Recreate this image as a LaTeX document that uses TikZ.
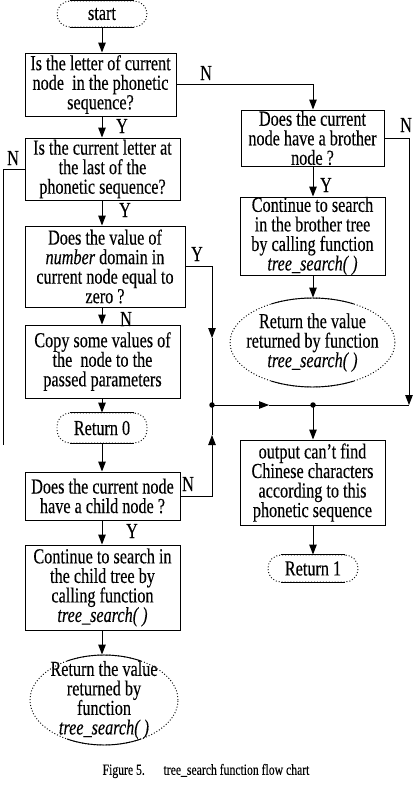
\documentclass[tikz,border=0pt]{standalone}
\usepackage{fontspec}
\setmainfont{Liberation Serif}[UprightFeatures={FakeBold=0.25},ItalicFeatures={FakeBold=0.25}]
\usetikzlibrary{arrows.meta,shapes.geometric}
\newcommand\flowfont{\fontsize{16.2}{14.8}\selectfont\lineskiplimit=-50pt\relax}
\newcommand\flowtext[3]{%
  \begin{scope}[shift={#1},yscale=1.32,transform shape]
    \node[txt] (#2) at (0,0) {#3};
  \end{scope}}
\begin{document}
\begin{tikzpicture}[x=1pt,y=-1pt,
  line width=0.95pt,
  box/.style={draw, rectangle, inner sep=0pt},
  term/.style={draw, dotted, rounded corners=13pt, rectangle, inner sep=0pt},
  oval/.style={draw, dotted, ellipse, inner sep=0pt},
  txt/.style={align=center, inner sep=0pt, font=\flowfont},
  arr/.style={-{Triangle[length=10pt,width=7.5pt]}},
  dot/.style={circle, fill, inner sep=0pt, minimum size=5.5pt}]
\useasboundingbox (0,0) rectangle (413,793);

% ---------- frames ----------
\node[term, minimum width=90pt, minimum height=26pt] (start) at (102,14) {};
\node[box, minimum width=151pt, minimum height=63pt] (b1) at (100.5,84.5) {};
\node[box, minimum width=155pt, minimum height=62pt] (b2) at (102.5,169) {};
\node[box, minimum width=160pt, minimum height=81pt] (b3) at (105,266.5) {};
\node[box, minimum width=155pt, minimum height=73pt] (b4) at (102.5,361.5) {};
\node[term, minimum width=90pt, minimum height=30pt] (r0) at (102,428) {};
\node[box, minimum width=155pt, minimum height=48pt] (b5) at (102.5,496) {};
\node[box, minimum width=155pt, minimum height=85pt] (b6) at (102.5,587.5) {};
\node[oval, minimum width=148pt, minimum height=90pt] (e1) at (104,700) {};

\node[box, minimum width=143pt, minimum height=56pt] (bro) at (312.5,138) {};
\node[box, minimum width=145pt, minimum height=78pt] (cont) at (312.5,236) {};
\node[oval, minimum width=165pt, minimum height=89pt] (e2) at (312.5,342.5) {};
\node[box, minimum width=145pt, minimum height=85pt] (out) at (312.5,482.5) {};
\node[term, minimum width=90pt, minimum height=27pt] (r1) at (313,568.5) {};

% solid straight parts of the terminals and ovals
\foreach \t in {start,r0,r1}{
  \draw ([xshift=13pt]\t.north west) -- ([xshift=-13pt]\t.north east);
  \draw ([xshift=13pt]\t.south west) -- ([xshift=-13pt]\t.south east);
}
\draw ([shift={(60:74pt and 45pt)}]e1.center) arc[start angle=60,end angle=120,x radius=74pt,y radius=45pt];
\draw ([shift={(240:74pt and 45pt)}]e1.center) arc[start angle=240,end angle=300,x radius=74pt,y radius=45pt];
\draw ([shift={(60:82.5pt and 44.5pt)}]e2.center) arc[start angle=60,end angle=120,x radius=82.5pt,y radius=44.5pt];
\draw ([shift={(240:82.5pt and 44.5pt)}]e2.center) arc[start angle=240,end angle=300,x radius=82.5pt,y radius=44.5pt];

% ---------- texts ----------
\flowtext{(102,14)}{startt}{start}
\flowtext{(100.5,84.5)}{b1t}{Is the letter of current\\node\ \ in the phonetic\\sequence?}
\flowtext{(102.5,169)}{b2t}{Is the current letter at\\the last of the\\phonetic sequence?}
\flowtext{(105,266.5)}{b3t}{Does the value of\\\textit{number} domain in\\current node equal to\\zero ?}
\flowtext{(102.5,361.5)}{b4t}{Copy some values of\\the\ \ node to the\\passed parameters}
\flowtext{(102,428)}{r0t}{Return 0}
\flowtext{(102.5,496)}{b5t}{Does the current node\\have a child node ?}
\flowtext{(102.5,587.5)}{b6t}{Continue to search in\\the child tree by\\calling function\\\textit{tree\_search( )}}
\flowtext{(104,700)}{e1t}{Return the value\\returned by\\function\\\textit{tree\_search( )}}
\flowtext{(312.5,138)}{brot}{Does the current\\node have a brother\\node ?}
\flowtext{(312.5,236)}{contt}{Continue to search\\in the brother tree\\by calling function\\\textit{tree\_search( )}}
\flowtext{(312.5,342.5)}{e2t}{Return the value\\returned by function\\\textit{tree\_search( )}}
\flowtext{(312.5,482.5)}{outt}{output can't find\\Chinese characters\\according to this\\phonetic sequence}
\flowtext{(313,568.5)}{r1t}{Return 1}

% ---------- labels ----------
\flowtext{(206,73)}{l1}{N}
\flowtext{(122,126)}{l2}{Y}
\flowtext{(13,158)}{l3}{N}
\flowtext{(125,210)}{l4}{Y}
\flowtext{(197,254)}{l5}{Y}
\flowtext{(126,319)}{l6}{N}
\flowtext{(188,484)}{l7}{N}
\flowtext{(132,531)}{l8}{Y}
\flowtext{(406,125)}{l9}{N}
\flowtext{(326,185)}{l10}{Y}

% ---------- coordinates ----------
\coordinate (j1) at (212,405);
\coordinate (j2) at (313,405);
\coordinate (j3) at (409,405);
\coordinate (m1) at (212,338);
\coordinate (m2) at (212,435);
\coordinate (m3) at (269,405);
\coordinate (m4) at (409,405);
\coordinate (nfree) at (3,445);

% ---------- connectors ----------
\draw[arr] (start.south -| start) -- (b1.north -| start);
\draw[arr] (b1.south -| start) -- (b2.north -| start);
\draw[arr] (b2.south -| start) -- (b3.north -| start);
\draw[arr] (b3.south -| start) -- (b4.north -| start);
\draw[arr] (b4.south -| start) -- (r0.north -| start);
\draw[arr] (r0.south -| start) -- (b5.north -| start);
\draw[arr] (b5.south -| start) -- (b6.north -| start);
\draw[arr] (b6.south -| start) -- (e1.north -| start);

\draw[arr] (b1.east) -| (bro.north -| j2);
\draw[arr] (bro.south -| j2) -- (cont.north -| j2);
\draw[arr] (cont.south -| j2) -- (e2.north -| j2);

\draw (b2.west) -| (nfree);
\draw[arr] (b3.east) -| (m1);
\draw (m1) -- (j1);
\draw[arr] (b5.east) -| (m2);
\draw (m2) -- (j1);
\draw[arr] (j1) -- (m3);
\draw (m3) -- (j3);
\draw[arr] (bro.east) -| (m4);
\draw[arr] (j2) -- (out.north -| j2);
\draw[arr] (out.south -| j2) -- (r1.north -| j2);
\node[dot] (d1) at (j1) {};
\node[dot] (d2) at (j2) {};

% ---------- caption ----------
\begin{scope}[shift={(206,771)},yscale=1.32,transform shape]
  \node[inner sep=0pt, font=\fontsize{11.7}{13}\selectfont] (cap) at (0,0)
    {Figure 5.\hspace{1.6em}tree\_search function flow chart};
\end{scope}
\end{tikzpicture}
\end{document}
